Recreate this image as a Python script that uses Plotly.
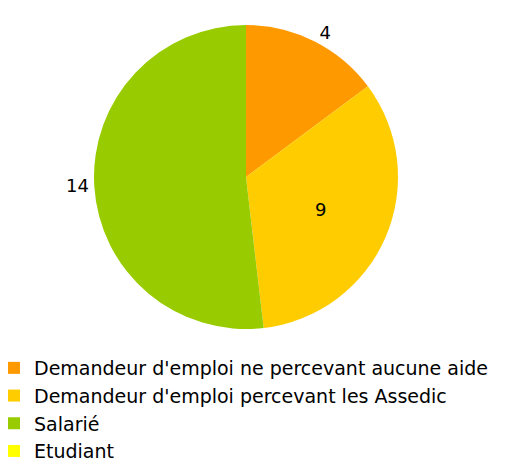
import plotly.graph_objects as go

# Répartition des participants selon leur situation
categories = [
    "Demandeur d'emploi ne percevant aucune aide",
    "Demandeur d'emploi percevant les Assedic",
    "Salarié",
    "Etudiant",
]
values = [4, 9, 14, 0]
colors = ["#FF9900", "#FFCC00", "#99CC00", "#FFFF00"]
label_positions = ["outside", "inside", "outside", "none"]

W, H = 513, 464
cx, cy, r = 246, 177, 152

fig = go.Figure(
    go.Pie(
        labels=categories,
        values=values,
        sort=False,
        direction="clockwise",
        rotation=0,
        marker=dict(colors=colors, line=dict(color="white", width=0)),
        text=[str(v) if v else "" for v in values],
        textinfo="text",
        textposition=label_positions,
        insidetextorientation="horizontal",
        textfont=dict(family="DejaVu Sans", size=18, color="black"),
        hoverinfo="label+value",
        showlegend=True,
        domain=dict(
            x=[(cx - r) / W, (cx + r) / W],
            y=[(H - cy - r) / H, (H - cy + r) / H],
        ),
    )
)

fig.update_layout(
    width=W,
    height=H,
    margin=dict(l=0, r=0, t=0, b=0, autoexpand=False),
    paper_bgcolor="white",
    plot_bgcolor="white",
    legend=dict(
        x=-6 / W,
        y=-6 / H,
        xanchor="left",
        yanchor="bottom",
        font=dict(family="DejaVu Sans", size=19, color="black"),
        bgcolor="rgba(0,0,0,0)",
        traceorder="normal",
    ),
)

fig.write_html("out.html")
